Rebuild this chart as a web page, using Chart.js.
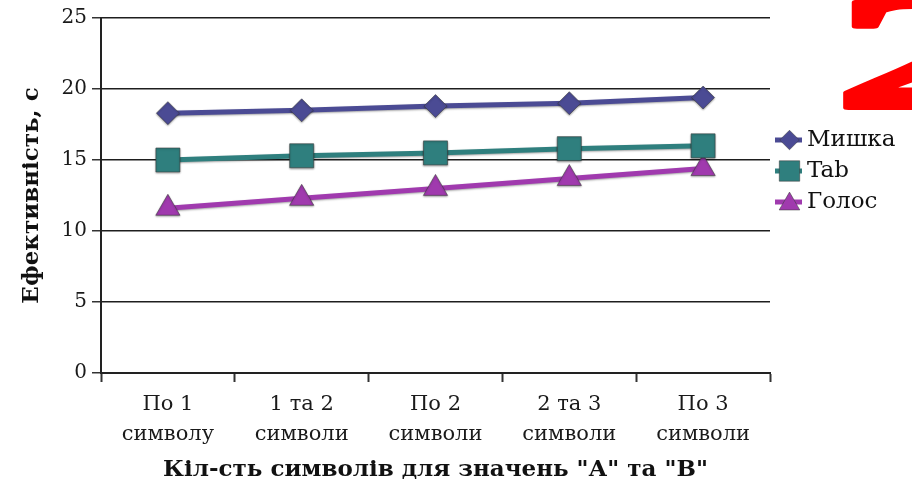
<!DOCTYPE html>
<html>
<head>
<meta charset="utf-8">
<script src="https://cdn.jsdelivr.net/npm/chart.js@4/dist/chart.umd.min.js"></script>
<style>
  html, body { margin: 0; padding: 0; background: #ffffff; }
  #wrap { width: 912px; height: 492px; position: relative; }
</style>
</head>
<body>
<div id="wrap"><canvas id="c" width="912" height="492"></canvas></div>
<script>
// Categories (two-line labels) and measured efficiency, seconds
const categories = [
  ['По 1', 'символу'],
  ['1 та 2', 'символи'],
  ['По 2', 'символи'],
  ['2 та 3', 'символи'],
  ['По 3', 'символи']
];
const seriesNames = ['Мишка', 'Tab', 'Голос'];
const mouseValues = [18.3, 18.5, 18.8, 19.0, 19.4];
const tabValues   = [15.0, 15.3, 15.5, 15.8, 16.0];
const voiceValues = [11.6, 12.3, 13.0, 13.7, 14.4];
const yTicks = [0, 5, 10, 15, 20, 25];
const yTitle = 'Ефективність, с';
const xTitle = 'Кіл-сть символів для значень "А" та "В"';
const badgeText = '2';

const SERIF = '"DejaVu Serif", "Liberation Serif", serif';
const colors = ['#4b4b94', '#2f7f7e', '#a03aae'];
const markers = [
  { style: 'rectRot', radius: 11.5 },
  { style: 'rect', radius: 17 },
  { style: 'triangle', radius: 14 }
];

function makeDataset(i, values) {
  return {
    label: seriesNames[i],
    data: values,
    borderColor: colors[i],
    backgroundColor: colors[i],
    borderWidth: 5,
    pointStyle: markers[i].style,
    pointRadius: markers[i].radius,
    pointHoverRadius: markers[i].radius,
    pointBackgroundColor: colors[i],
    pointBorderColor: 'rgba(60,60,60,0.55)',
    pointBorderWidth: 1,
    tension: 0
  };
}

// Soft outline under the series lines
const lineShadow = {
  id: 'lineShadow',
  beforeDatasetsDraw(chart) {
    const ctx = chart.ctx;
    ctx.save();
    ctx.shadowColor = 'rgba(0,0,0,0.35)';
    ctx.shadowBlur = 2;
    ctx.shadowOffsetX = 0;
    ctx.shadowOffsetY = 1;
  },
  afterDatasetsDraw(chart) {
    chart.ctx.restore();
  }
};

// Legend to the right: short line + marker + name
const sideLegend = {
  id: 'sideLegend',
  afterDraw(chart) {
    const ctx = chart.ctx;
    const x0 = 775, x1 = 802, tx = 807;
    const rows = [140, 171, 202];
    ctx.save();
    chart.data.datasets.forEach((ds, i) => {
      const y = rows[i];
      ctx.strokeStyle = ds.borderColor;
      ctx.lineWidth = 5;
      ctx.beginPath();
      ctx.moveTo(x0, y);
      ctx.lineTo(x1, y);
      ctx.stroke();
      ctx.fillStyle = ds.pointBackgroundColor;
      ctx.strokeStyle = ds.pointBorderColor;
      ctx.lineWidth = 1;
      const r = ds.pointRadius * 0.85;
      Chart.helpers.drawPoint(ctx, { pointStyle: ds.pointStyle, radius: r, rotation: 0, borderWidth: 1 }, (x0 + x1) / 2 + 1, ds.pointStyle === 'triangle' ? y + 2 : y);
      ctx.fillStyle = '#111';
      ctx.font = '23px ' + SERIF;
      ctx.textAlign = 'left';
      ctx.textBaseline = 'middle';
      ctx.fillText(ds.label, tx, y);
    });
    ctx.restore();
  }
};

// Large red figure in the upper right corner (short, wide, heavy numeral)
const badge = {
  id: 'badge',
  afterDraw(chart) {
    const ctx = chart.ctx;
    ctx.save();
    ctx.translate(832, 110);
    ctx.scale(1.3, 0.55);
    ctx.fillStyle = '#ff0000';
    ctx.strokeStyle = '#ff0000';
    ctx.lineWidth = 8;
    ctx.lineJoin = 'round';
    ctx.font = 'bold 300px "Liberation Serif", "Times New Roman", serif';
    ctx.textAlign = 'left';
    ctx.textBaseline = 'alphabetic';
    ctx.fillText(badgeText, 0, -4);
    ctx.strokeText(badgeText, 0, -4);
    ctx.restore();
  }
};

new Chart(document.getElementById('c'), {
  type: 'line',
  data: {
    labels: categories,
    datasets: [
      makeDataset(0, mouseValues),
      makeDataset(1, tabValues),
      makeDataset(2, voiceValues)
    ]
  },
  options: {
    responsive: false,
    devicePixelRatio: 1,
    animation: false,
    layout: { padding: { top: 17, right: 142, bottom: 0, left: 0 } },
    plugins: {
      legend: { display: false },
      tooltip: { enabled: false }
    },
    scales: {
      x: {
        type: 'category',
        offset: true,
        grid: {
          display: true,
          offset: true,
          drawOnChartArea: false,
          drawTicks: true,
          tickLength: 9,
          tickColor: '#333',
          tickWidth: 2
        },
        border: { display: true, color: '#222', width: 2 },
        ticks: {
          color: '#1a1a1a',
          font: { family: SERIF, size: 21, lineHeight: 1.43 },
          padding: 8,
          maxRotation: 0,
          autoSkip: false
        },
        title: {
          display: true,
          text: xTitle,
          color: '#111',
          font: { family: SERIF, size: 23, weight: 'bold', lineHeight: 1.2 },
          padding: { top: 0, bottom: 8 }
        },
        afterFit(scale) { scale.height = 119; }
      },
      y: {
        min: 0,
        max: 25,
        afterBuildTicks(scale) { scale.ticks = yTicks.map(v => ({ value: v })); },
        grid: {
          color: '#1e1e1e',
          lineWidth: 1.5,
          drawTicks: true,
          tickLength: 9,
          tickColor: '#333',
          tickWidth: 1.5
        },
        border: { display: true, color: '#222', width: 2 },
        ticks: {
          color: '#1a1a1a',
          font: { family: SERIF, size: 20 },
          padding: 5
        },
        title: {
          display: true,
          text: yTitle,
          color: '#111',
          font: { family: SERIF, size: 23, weight: 'bold', lineHeight: 1.2 },
          padding: { top: 18, bottom: 0 }
        },
        afterFit(scale) { scale.width = 101; }
      }
    }
  },
  plugins: [lineShadow, sideLegend, badge]
});
</script>
</body>
</html>
